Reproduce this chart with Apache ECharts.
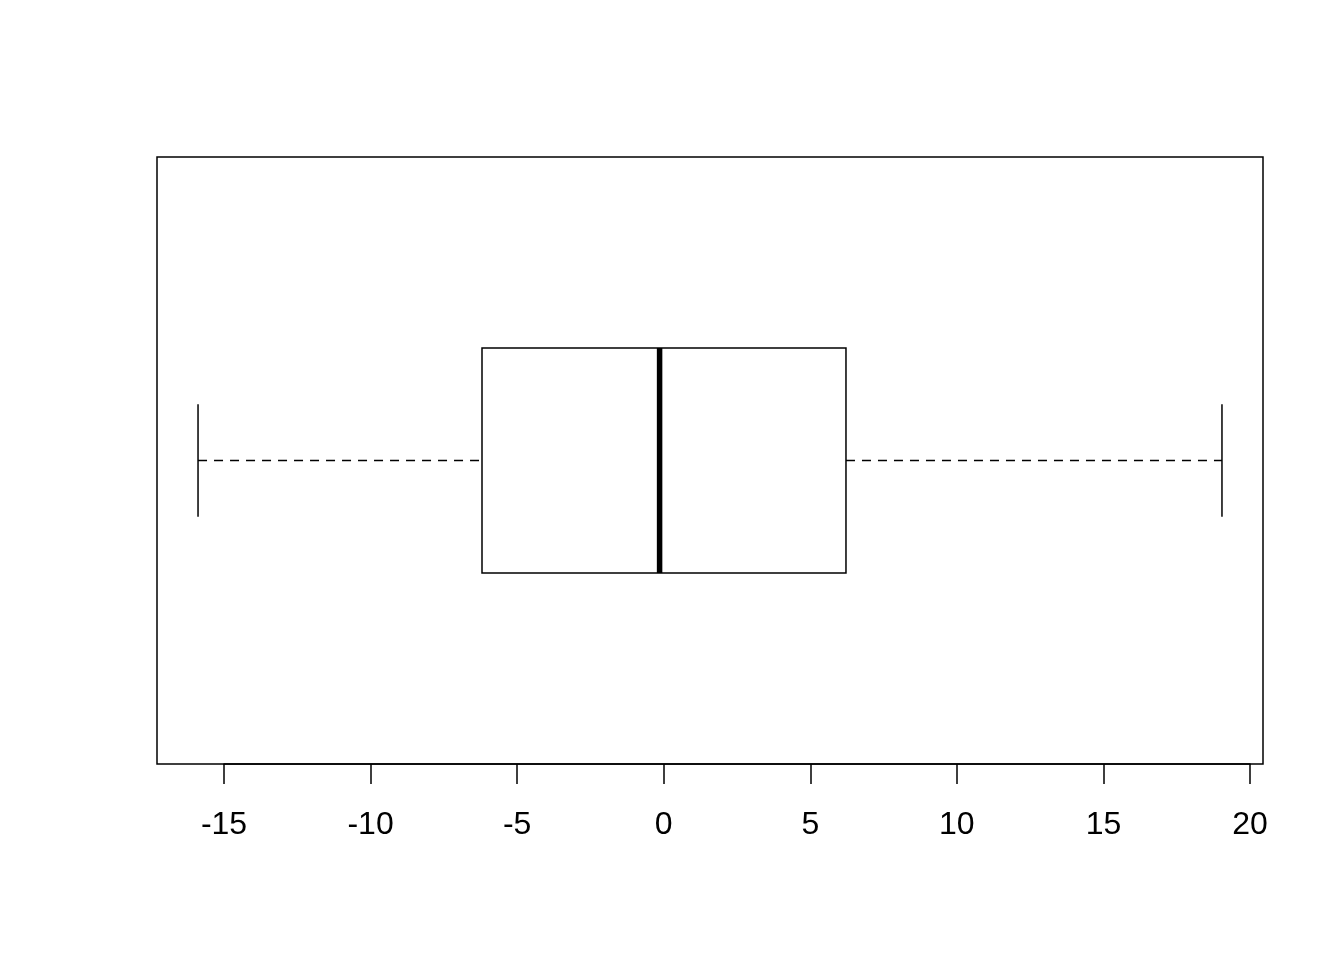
<!DOCTYPE html>
<html>
<head>
<meta charset="utf-8">
<script src="https://cdn.jsdelivr.net/npm/echarts@6/dist/echarts.min.js"></script>
<style>html,body{margin:0;padding:0;background:#fff;}#c{width:1344px;height:960px;}</style>
</head>
<body>
<div id="c"></div>
<script>
// Box statistics: [min whisker, Q1, median, Q3, max whisker]
const boxStats = [-15.89, -6.2, -0.14, 6.22, 19.05];
const boxPosition = 1;
const tickValues = [-15, -10, -5, 0, 5, 10, 15, 20];
const xRange = [-17.29, 20.45];
const yRange = [0.46, 1.54];

const chart = echarts.init(document.getElementById('c'), null, {renderer: 'canvas'});

function renderBox(params, api) {
  const y = api.value(0);
  const mn = api.value(1), q1 = api.value(2), md = api.value(3), q3 = api.value(4), mx = api.value(5);
  const c = (v, yy) => api.coord([v, yy]);
  const halfBox = 0.2, halfCap = 0.1;
  const pMinT = c(mn, y + halfCap), pMinB = c(mn, y - halfCap);
  const pMaxT = c(mx, y + halfCap), pMaxB = c(mx, y - halfCap);
  const q1T = c(q1, y + halfBox), q3B = c(q3, y - halfBox);
  const mdT = c(md, y + halfBox), mdB = c(md, y - halfBox);
  const mid = c(mn, y)[1];
  const lw = 1.5;
  return {
    type: 'group',
    children: [
      {type: 'line', shape: {x1: c(mn, y)[0], y1: mid, x2: q1T[0], y2: mid},
       style: {stroke: '#000', lineWidth: lw, lineDash: [9, 7]}},
      {type: 'line', shape: {x1: q3B[0], y1: mid, x2: c(mx, y)[0], y2: mid},
       style: {stroke: '#000', lineWidth: lw, lineDash: [9, 7]}},
      {type: 'line', shape: {x1: pMinT[0], y1: pMinT[1], x2: pMinB[0], y2: pMinB[1]},
       style: {stroke: '#000', lineWidth: lw}},
      {type: 'line', shape: {x1: pMaxT[0], y1: pMaxT[1], x2: pMaxB[0], y2: pMaxB[1]},
       style: {stroke: '#000', lineWidth: lw}},
      {type: 'rect', shape: {x: q1T[0], y: q1T[1], width: q3B[0] - q1T[0], height: q3B[1] - q1T[1]},
       style: {fill: '#fff', stroke: '#000', lineWidth: lw}},
      {type: 'line', shape: {x1: mdT[0], y1: mdT[1], x2: mdB[0], y2: mdB[1]},
       style: {stroke: '#000', lineWidth: 5.5}}
    ]
  };
}

chart.setOption({
  backgroundColor: '#fff',
  animation: false,
  grid: [
    {left: 157, top: 157, width: 1106, height: 607, show: true, borderColor: '#000', borderWidth: 1.5, backgroundColor: 'transparent', containLabel: false},
    {left: 224, top: 157, width: 1026, height: 607, show: false, containLabel: false}
  ],
  xAxis: [
    {gridIndex: 0, type: 'value', min: xRange[0], max: xRange[1], show: false},
    {gridIndex: 1, type: 'value', min: tickValues[0], max: tickValues[tickValues.length - 1], interval: 5,
     position: 'bottom',
     axisLine: {show: true, onZero: false, lineStyle: {color: '#000', width: 1.5}},
     axisTick: {show: true, inside: false, length: 20, lineStyle: {color: '#000', width: 1.5}},
     axisLabel: {show: true, margin: 45, color: '#000', fontSize: 32, fontFamily: 'Liberation Sans, Arial, sans-serif',
                 showMinLabel: true, showMaxLabel: true,
                 formatter: v => tickValues.includes(v) ? String(v) : ''},
     splitLine: {show: false}}
  ],
  yAxis: [
    {gridIndex: 0, type: 'value', min: yRange[0], max: yRange[1], show: false},
    {gridIndex: 1, type: 'value', min: 0, max: 1, show: false}
  ],
  series: [{
    type: 'custom',
    xAxisIndex: 0, yAxisIndex: 0,
    renderItem: renderBox,
    encode: {x: [1, 2, 3, 4, 5], y: 0},
    data: [[boxPosition].concat(boxStats)],
    silent: true
  }]
});
</script>
</body>
</html>
